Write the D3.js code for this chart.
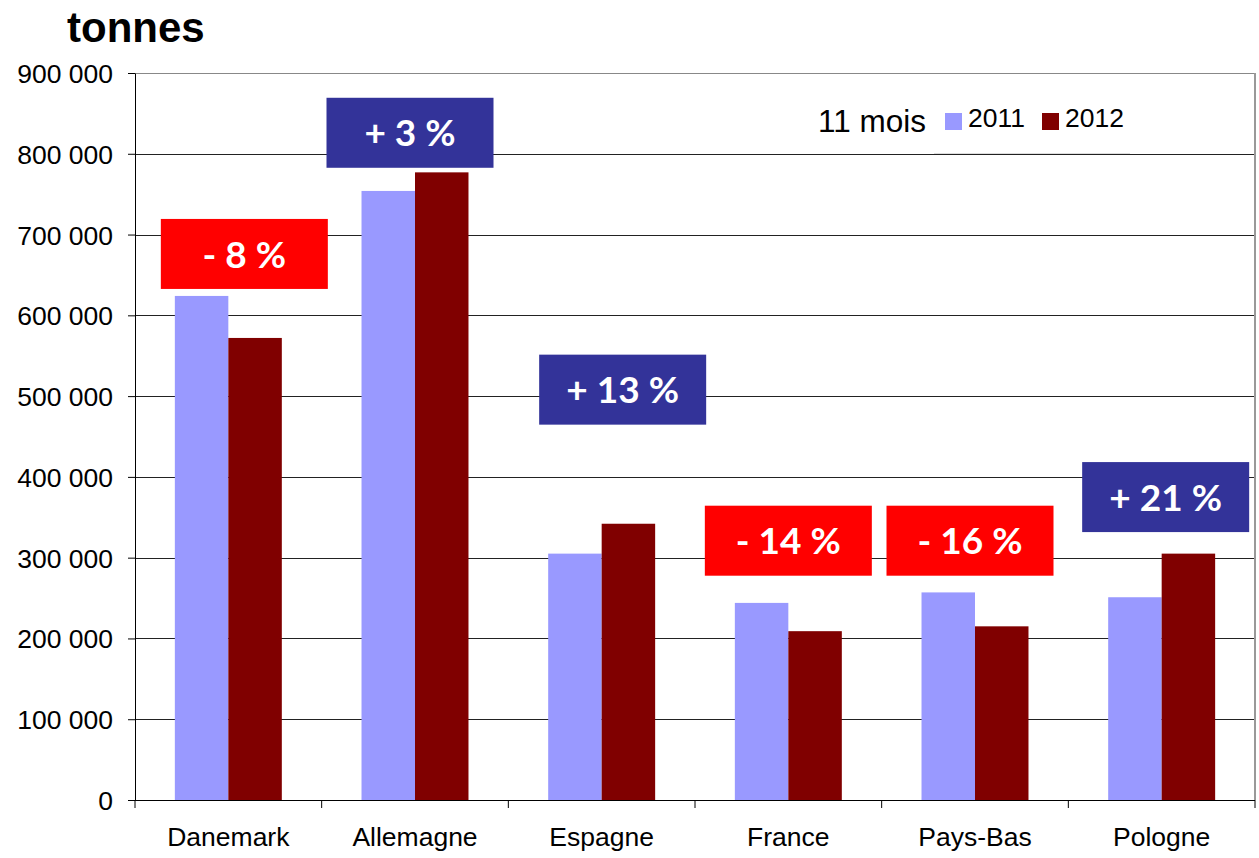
<!DOCTYPE html>
<html lang="fr">
    <head>
        <meta charset="utf-8">
        <title>tonnes</title>
        <script src="https://d3js.org/d3.v7.min.js"></script>
        <style>
            body { margin: 0; background: #fff; }
            text { font-family: "Liberation Sans", Arial, sans-serif; }
        </style>
    </head>
    <body>
        <script type="text/javascript">
            // data
            const countries = ["Danemark", "Allemagne", "Espagne", "France", "Pays-Bas", "Pologne"];
            const seriesNames = ["2011", "2012"];
            const values2011 = [624000, 754000, 305000, 244000, 257000, 251000];
            const values2012 = [572000, 777000, 342000, 209000, 215000, 305000];
            const changeLabels = ["- 8 %", "+ 3 %", "+ 13 %", "- 14 %", "- 16 %", "+ 21 %"];
            const yTicks = [0, 100000, 200000, 300000, 400000, 500000, 600000, 700000, 800000, 900000];

            // where the change boxes sit (centre, in tonnes) and shift from band centre (px)
            const labelLevel = [676000, 826000, 508000, 321000, 321000, 375000];
            const labelShift = [16, -5, 21, 0, -5, 4];

            const COL2011 = '#9999FF';
            const COL2012 = '#800000';
            const RED = '#FF0000';
            const BLUE = '#333399';

            var width = 1259,
                height = 858,
                plotLeft = 135,
                plotRight = 1255,
                plotTop = 73,
                plotBottom = 800;

            var svg = d3.select("body").append("svg")
                .attr("width", width)
                .attr("height", height);

            var x0 = d3.scaleBand()
                .domain(countries)
                .range([plotLeft, plotRight])
                .padding(0);

            var x1 = d3.scaleBand()
                .domain(seriesNames)
                .range([0, x0.bandwidth()])
                .paddingInner(0)
                .paddingOuter(0.745);

            var y = d3.scaleLinear()
                .domain([0, 900000])
                .range([plotBottom, plotTop]);

            var fmt = function(d) { return d3.format(",")(d).replace(/,/g, " "); };

            // gridlines
            svg.append("g")
                .selectAll("line")
                .data(yTicks.slice(1))
                .join("line")
                .attr("x1", plotLeft)
                .attr("x2", plotRight)
                .attr("y1", d => Math.round(y(d)) + 0.5)
                .attr("y2", d => Math.round(y(d)) + 0.5)
                .attr("stroke", d => d === 900000 ? "#888" : "#222")
                .attr("stroke-width", 1);

            // right border
            svg.append("line")
                .attr("x1", plotRight).attr("x2", plotRight)
                .attr("y1", plotTop).attr("y2", plotBottom)
                .attr("stroke", "#999")
                .attr("stroke-width", 2);

            // legend box (covers the gridline)
            svg.append("rect")
                .attr("x", 934).attr("y", 100)
                .attr("width", 196).attr("height", 53)
                .attr("fill", "#fff");
            svg.append("line")
                .attr("x1", 934).attr("x2", 1130)
                .attr("y1", 153.5).attr("y2", 153.5)
                .attr("stroke", "#ddd");

            // bars
            var data = countries.map((c, i) => ({country: c, vals: [values2011[i], values2012[i]]}));
            var groups = svg.append("g")
                .selectAll("g")
                .data(data)
                .join("g")
                .attr("transform", d => "translate(" + x0(d.country) + ",0)");

            groups.selectAll("rect")
                .data(d => d.vals.map((v, j) => ({series: seriesNames[j], value: v})))
                .join("rect")
                .attr("x", d => x1(d.series))
                .attr("width", x1.bandwidth())
                .attr("y", d => y(d.value))
                .attr("height", d => plotBottom - y(d.value))
                .attr("fill", d => d.series === "2011" ? COL2011 : COL2012);

            // axes
            var yAxis = svg.append("g")
                .attr("transform", "translate(" + plotLeft + ",0)")
                .call(d3.axisLeft(y).tickValues(yTicks).tickFormat(fmt).tickSize(7).tickSizeOuter(0));
            yAxis.select(".domain").attr("stroke", "#000");
            yAxis.selectAll(".tick line").attr("stroke", "#000");
            yAxis.selectAll(".tick text")
                .attr("x", -22)
                .attr("dy", "0.36em")
                .style("font-size", "26.5px")
                .style("font-family", "'Liberation Sans', Arial, sans-serif")
                .attr("fill", "#000");

            var xAxis = svg.append("g")
                .attr("transform", "translate(0," + plotBottom + ")");
            xAxis.append("line")
                .attr("x1", plotLeft).attr("x2", plotRight)
                .attr("y1", 0.5).attr("y2", 0.5)
                .attr("stroke", "#000");
            xAxis.selectAll("line.sep")
                .data(countries.map(c => x0(c)).concat([plotRight]))
                .join("line")
                .attr("class", "sep")
                .attr("x1", d => d).attr("x2", d => d)
                .attr("y1", 0).attr("y2", 8)
                .attr("stroke", "#000");
            xAxis.selectAll("text")
                .data(countries)
                .join("text")
                .attr("x", d => x0(d) + x0.bandwidth() / 2)
                .attr("y", 46)
                .attr("text-anchor", "middle")
                .style("font-size", "26.5px")
                .text(d => d);

            // change boxes
            var boxW = 167, boxH = 70;
            var boxes = svg.append("g")
                .selectAll("g")
                .data(countries.map((c, i) => ({country: c, label: changeLabels[i], level: labelLevel[i], shift: labelShift[i]})))
                .join("g")
                .attr("transform", d => "translate(" + (x0(d.country) + x0.bandwidth() / 2 + d.shift) + "," + y(d.level) + ")");
            boxes.append("rect")
                .attr("x", -boxW / 2)
                .attr("y", -boxH / 2)
                .attr("width", boxW)
                .attr("height", boxH)
                .attr("fill", d => d.label.charAt(0) === "-" ? RED : BLUE);
            boxes.append("text")
                .attr("text-anchor", "middle")
                .attr("dy", "0.37em")
                .style("font-family", "Lato, 'Open Sans', sans-serif")
                .style("font-weight", "bold")
                .style("font-size", "37px")
                .attr("fill", "#fff")
                .text(d => d.label);

            // title
            svg.append("text")
                .attr("x", 67)
                .attr("y", 42)
                .style("font-size", "42px")
                .style("font-weight", "bold")
                .text("tonnes");

            // legend
            svg.append("text")
                .attr("x", 818)
                .attr("y", 132)
                .style("font-size", "31.5px")
                .text("11 mois");

            var legend = svg.append("g")
                .selectAll("g")
                .data(seriesNames)
                .join("g")
                .attr("transform", (d, i) => "translate(" + (945 + i * 97) + ",113)");
            legend.append("rect")
                .attr("width", 17)
                .attr("height", 17)
                .attr("fill", d => d === "2011" ? COL2011 : COL2012);
            legend.append("text")
                .attr("x", 23)
                .attr("y", 14)
                .style("font-size", "26.5px")
                .text(d => d);
        </script>
    </body>
</html>
